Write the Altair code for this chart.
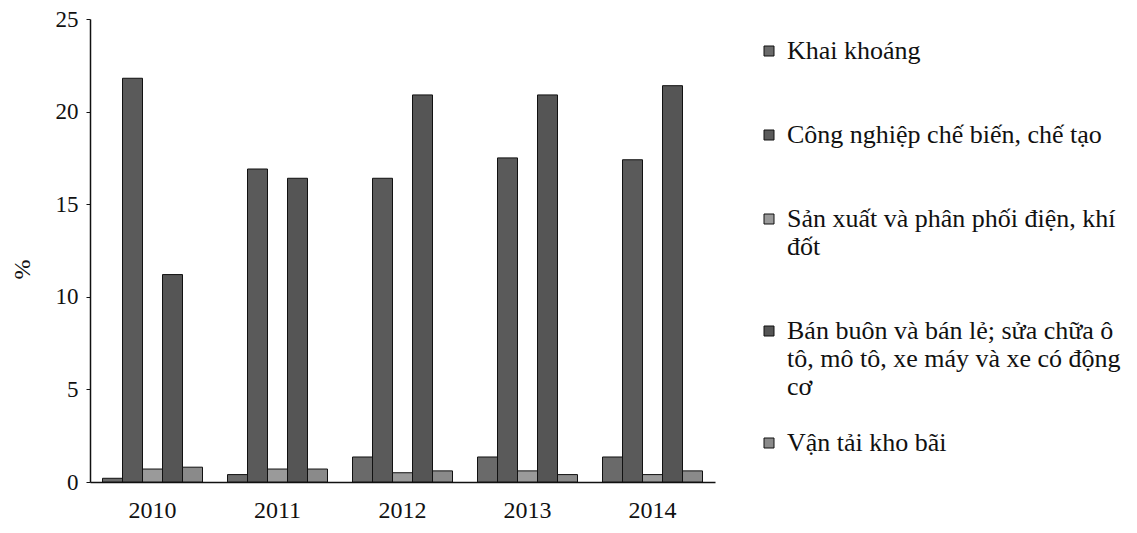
import altair as alt
import pandas as pd

years = ["2010", "2011", "2012", "2013", "2014"]
series = [
    "Khai khoáng",
    "Công nghiệp chế biến, chế tạo",
    "Sản xuất và phân phối điện, khí|đốt",
    "Bán buôn và bán lẻ; sửa chữa ô|tô, mô tô, xe máy và xe có động|cơ",
    "Vận tải kho bãi",
]
khai_khoang = [0.2, 0.4, 1.35, 1.35, 1.35]
cong_nghiep = [21.8, 16.9, 16.4, 17.5, 17.4]
dien_khi = [0.7, 0.7, 0.5, 0.6, 0.4]
ban_buon = [11.2, 16.4, 20.9, 20.9, 21.4]
van_tai = [0.8, 0.7, 0.6, 0.4, 0.6]
colors = ["#6a6a6a", "#5a5a5a", "#9a9a9a", "#555555", "#8a8a8a"]

values = [khai_khoang, cong_nghiep, dien_khi, ban_buon, van_tai]
rows = []
for s, vals in zip(series, values):
    for y, v in zip(years, vals):
        rows.append({"year": y, "series": s, "value": v})
df = pd.DataFrame(rows)

FONT = "Liberation Serif"

chart = alt.Chart(df).mark_bar(stroke="#111111", strokeWidth=1).encode(
    x=alt.X("year:N", sort=years,
            scale=alt.Scale(paddingInner=0.2, paddingOuter=0.1),
            axis=alt.Axis(title=None, labelAngle=0, ticks=False, labelPadding=16,
                          labelFontSize=24, labelFont=FONT, labelColor="#111",
                          domainColor="#111", domainWidth=1.5)),
    xOffset=alt.XOffset("series:N", sort=series, scale=alt.Scale(paddingInner=0, paddingOuter=0)),
    y=alt.Y("value:Q", scale=alt.Scale(domain=[0, 25]),
            axis=alt.Axis(title="%", values=[0, 5, 10, 15, 20, 25], grid=False,
                          tickSize=4, tickColor="#111", labelPadding=8,
                          labelFontSize=23, labelFont=FONT, labelColor="#111",
                          titleFont=FONT, titleFontSize=24, titleFontWeight="normal",
                          titleColor="#111", titleX=-68, titleY=250, titleBaseline="middle",
                          domainColor="#111", domainWidth=1.5)),
    color=alt.Color("series:N", sort=series,
                    scale=alt.Scale(domain=series, range=colors),
                    legend=alt.Legend(title=None, orient="none", legendX=666, legendY=19,
                                      symbolType="square", symbolSize=100,
                                      symbolStrokeColor="#111", symbolStrokeWidth=1,
                                      labelFont=FONT, labelFontSize=26, labelColor="#111",
                                      labelLimit=400, labelOffset=5,
                                      labelExpr="split(length(split(datum.label, '|')) < 3 ? datum.label + '| ' : datum.label, '|')",
                                      rowPadding=30, symbolOffset=0)),
).properties(
    width=625, height=463,
    padding={"left": 2, "top": 0, "right": 0, "bottom": 0},
).configure(background="white").configure_view(stroke=None)

chart.save("out.html", embed_options={"renderer": "svg", "actions": False})
